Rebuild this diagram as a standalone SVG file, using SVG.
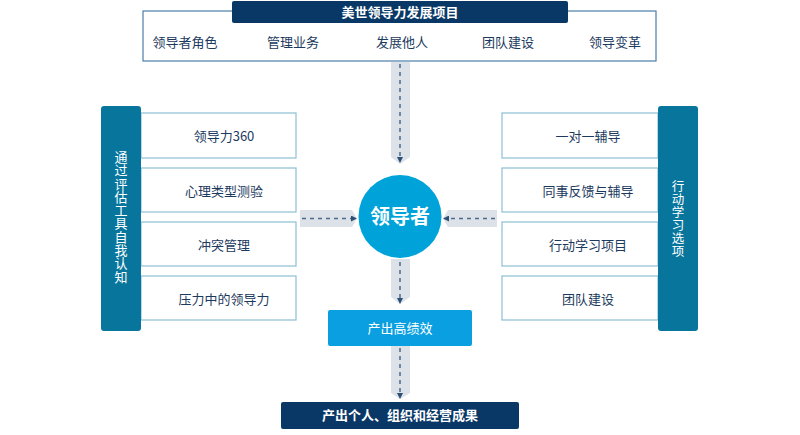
<svg xmlns="http://www.w3.org/2000/svg" width="800" height="435" viewBox="0 0 800 435">
<defs>
<style>
text{font-family:"Noto Sans CJK SC","Noto Sans",sans-serif;}
.lbl{font-size:13px;fill:#1c3a5e;text-anchor:middle;}
.wt{fill:#ffffff;text-anchor:middle;}
.vt{writing-mode:vertical-rl;text-orientation:upright;}
.box{fill:#ffffff;stroke:#8cbfd5;stroke-width:1.2;}
.bar{fill:#08769c;}
.navy{fill:#0a3866;}
.arr{fill:#dde1e8;}
.dash{stroke:#4d6b8c;stroke-width:1.5;stroke-dasharray:4 4;fill:none;}
</style>
<marker id="ah" markerWidth="6" markerHeight="6" refX="3" refY="3" orient="auto" markerUnits="userSpaceOnUse">
<path d="M0,0 L6,3 L0,6 Z" fill="#2d4f75"/>
</marker>
</defs>
<rect width="800" height="435" fill="#ffffff"/>

<g id="connectors">
<polygon class="arr" points="391,62 410,62 410,157 400,164 391,157"/>
<line class="dash" x1="400" y1="64" x2="400" y2="160" marker-end="url(#ah)"/>
<polygon class="arr" points="300,210 352,210 357,218.5 352,227 300,227"/>
<line class="dash" x1="302" y1="218.5" x2="354" y2="218.5" marker-end="url(#ah)"/>
<polygon class="arr" points="497,210 448,210 443,218.5 448,227 497,227"/>
<line class="dash" x1="495" y1="218.5" x2="446" y2="218.5" marker-end="url(#ah)"/>
<polygon class="arr" points="391,259 410,259 410,297 400,304 391,297"/>
<line class="dash" x1="400" y1="262" x2="400" y2="301" marker-end="url(#ah)"/>
<polygon class="arr" points="391,346 410,346 410,393 400,399 391,393"/>
<line class="dash" x1="400" y1="348" x2="400" y2="396" marker-end="url(#ah)"/>
</g>

<g id="top-program">
<rect x="143" y="11" width="513" height="50" fill="#ffffff" stroke="#4e7ea8" stroke-width="1.2"/>
<rect class="navy" x="232" y="1" width="336" height="22" rx="2"/>
<text class="wt" x="400" y="16.5" font-size="13" font-weight="bold">美世领导力发展项目</text>
<text class="lbl" x="185" y="46.5">领导者角色</text>
<text class="lbl" x="293" y="46.5">管理业务</text>
<text class="lbl" x="402" y="46.5">发展他人</text>
<text class="lbl" x="508" y="46.5">团队建设</text>
<text class="lbl" x="615" y="46.5">领导变革</text>
</g>

<g id="left-group">
<rect class="box" x="141" y="113" width="155" height="45"/>
<rect class="box" x="141" y="168" width="155" height="44"/>
<rect class="box" x="141" y="222" width="155" height="44"/>
<rect class="box" x="141" y="276" width="155" height="44"/>
<text class="lbl" x="224" y="140.5">领导力360</text>
<text class="lbl" x="224" y="195.5">心理类型测验</text>
<text class="lbl" x="224" y="249.5">冲突管理</text>
<text class="lbl" x="224" y="303.5">压力中的领导力</text>
<rect class="bar" x="101" y="106" width="40" height="225" rx="3"/>
<text class="wt vt" x="121" y="217" font-size="13" letter-spacing="0.3">通过评估工具自我认知</text>
</g>

<g id="right-group">
<rect class="box" x="502" y="113" width="156" height="45"/>
<rect class="box" x="502" y="168" width="156" height="44"/>
<rect class="box" x="502" y="222" width="156" height="44"/>
<rect class="box" x="502" y="276" width="156" height="44"/>
<text class="lbl" x="588" y="140.5">一对一辅导</text>
<text class="lbl" x="588" y="195.5">同事反馈与辅导</text>
<text class="lbl" x="588" y="249.5">行动学习项目</text>
<text class="lbl" x="588" y="303.5">团队建设</text>
<rect class="bar" x="658" y="106" width="40" height="225" rx="3"/>
<text class="wt vt" x="678" y="219" font-size="12.5" letter-spacing="0.5">行动学习选项</text>
</g>

<g id="leader">
<circle cx="400" cy="216.5" r="41.5" fill="#00a3d9"/>
<text class="wt" x="400" y="224" font-size="20" font-weight="bold">领导者</text>
</g>

<g id="performance">
<rect x="328" y="310" width="144" height="36" rx="2" fill="#0a9fe0"/>
<text class="wt" x="400" y="332.5" font-size="13">产出高绩效</text>
</g>

<g id="results">
<rect class="navy" x="281" y="402" width="238" height="27" rx="2"/>
<text class="wt" x="400" y="420" font-size="13" font-weight="bold">产出个人、组织和经营成果</text>
</g>
</svg>
